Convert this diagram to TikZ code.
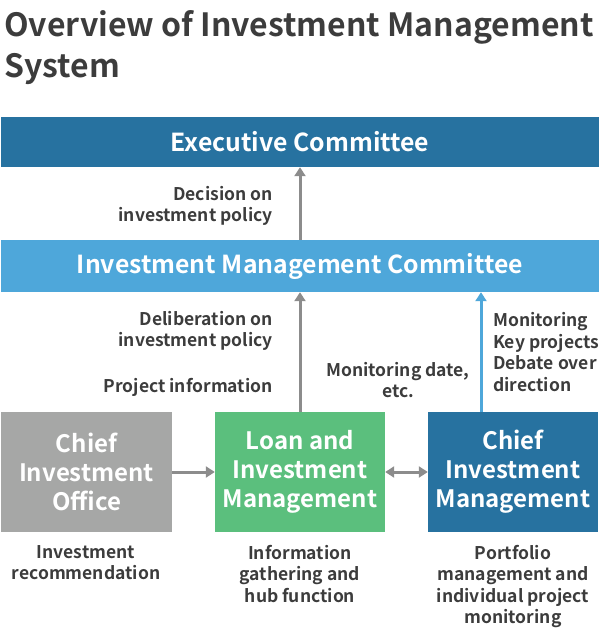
\documentclass[tikz,border=0pt]{standalone}
\usepackage{fontspec}
\setmainfont{Noto Sans CJK JP}[BoldFont={Noto Sans CJK JP Bold}]
\usetikzlibrary{arrows.meta,calc}
\definecolor{txt}{HTML}{3C3C3C}
\definecolor{darkblue}{HTML}{2772A0}
\definecolor{lightblue}{HTML}{4EA7DA}
\definecolor{greenbox}{HTML}{5BBF7D}
\definecolor{graybox}{HTML}{A6A7A6}
\definecolor{arrowgray}{HTML}{8C8C8C}
\tikzset{
  wide/.style={minimum width=598pt, inner sep=0pt, text=white, font=\bfseries\fontsize{24.8}{30}\selectfont},
  unit/.style={minimum width=171pt, minimum height=120pt, inner sep=0pt, text=white, align=center, font=\bfseries\fontsize{24}{29}\selectfont},
  lbl/.style={text=txt, inner sep=0pt, font=\bfseries\fontsize{17.5}{21.5}\selectfont},
  ttl/.style={anchor=base west, inner sep=0pt, text=txt, font=\bfseries\fontsize{32}{41}\selectfont},
  arr/.style={line width=3pt, arrowgray, -{Triangle[width=11pt,length=9pt]}},
}
\begin{document}
\begin{tikzpicture}[x=1pt,y=-1pt]
\useasboundingbox (0,0) rectangle (600,632);
\node[ttl] (title1) at (4,36) {Overview of Investment Management};
\node[ttl] (title2) at (4,77) {System};
\node[wide, fill=darkblue, minimum height=50pt] (exec) at (300,142) {Executive Committee};
\node[wide, fill=lightblue, minimum height=52pt] (imc) at (300,266) {Investment Management Committee};
\node[unit, fill=graybox] (office) at (86.5,472) {Chief\\Investment\\Office};
\node[unit, fill=greenbox, minimum width=170pt] (loan) at (300,472) {Loan and\\Investment\\Management};
\node[unit, fill=darkblue, minimum width=170pt] (chief) at (513,472) {Chief\\Investment\\Management};
\draw[arr] (imc.north) -- (exec.south);
\draw[arr] (loan.north) -- (imc.south);
\draw[arr, lightblue] ($(chief.north)+(-32,0)$) coordinate (cb) -- (cb |- imc.south);
\draw[arr] (office.east) -- (loan.west);
\draw[arr, {Triangle[width=11pt,length=9pt]}-{Triangle[width=11pt,length=9pt]}] (loan.east) -- (chief.west);
\node[lbl, align=right, anchor=east] (dec) at (273,206) {Decision on\\investment policy};
\node[lbl, align=right, anchor=east] (del) at (273,331) {Deliberation on\\investment policy};
\node[lbl, anchor=east] (proj) at (273,387) {Project information};
\node[lbl, align=center] (mon) at (398,380) {Monitoring date,\\etc.};
\node[lbl, align=left, anchor=west] (key) at (493,352) {Monitoring\\Key projects\\Debate over\\direction};
\node[lbl, align=center, anchor=north] (rec) at (86,545) {Investment\\recommendation};
\node[lbl, align=center, anchor=north] (info) at (300,545) {Information\\gathering and\\hub function};
\node[lbl, align=center, anchor=north] (port) at (513,545) {Portfolio\\management and\\individual project\\monitoring};
\end{tikzpicture}
\end{document}
